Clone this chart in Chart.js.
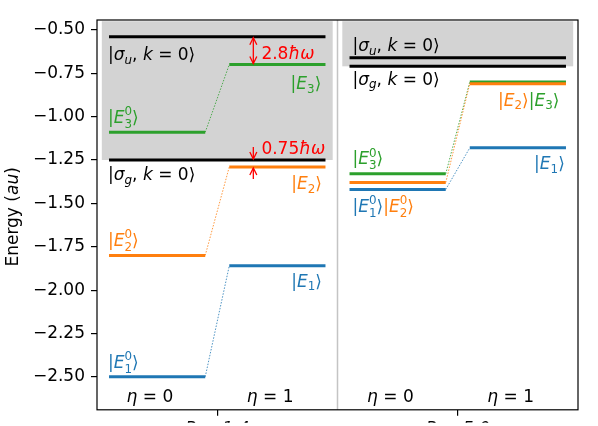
<!DOCTYPE html>
<html>
<head>
<meta charset="utf-8">
<script src="https://cdn.jsdelivr.net/npm/chart.js@4.4.1/dist/chart.umd.min.js"></script>
<style>
  html, body { margin: 0; padding: 0; background: #fff; }
  #wrap { width: 598px; height: 426px; }
</style>
</head>
<body>
<div id="wrap"><canvas id="c" width="598" height="426"></canvas></div>
<script>
// ---------------- data ----------------
const panelLabels = ['R = 1.4', 'R = 5.0'];
const etaLabels = ['η = 0', 'η = 1'];
const sigmaU = [-0.54, -0.66];
const sigmaG = [-1.25, -0.71];
const E1_eta0 = [-2.50, -1.42];
const E2_eta0 = [-1.80, -1.38];
const E3_eta0 = [-1.09, -1.33];
const E1_eta1 = [-1.86, -1.18];
const E2_eta1 = [-1.29, -0.81];
const E3_eta1 = [-0.70, -0.80];
const yTicks = [-2.50, -2.25, -2.00, -1.75, -1.50, -1.25, -1.00, -0.75, -0.50];
const gapLabels = ['2.8ħω', '0.75ħω'];

// ---------------- styles ----------------
const FONT = 'DejaVu Sans';
const FS = 17;
const C1 = '#1f77b4', C2 = '#ff7f0e', C3 = '#2ca02c';
const levelSets = [
  { e0: E1_eta0, e1: E1_eta1, color: C1 },
  { e0: E2_eta0, e1: E2_eta1, color: C2 },
  { e0: E3_eta0, e1: E3_eta1, color: C3 }
];

// ---------------- datasets ----------------
const datasets = [];
function seg(x0, x1, y0, y1, color, width, dash) {
  datasets.push({
    data: [{ x: x0, y: y0 }, { x: x1, y: y1 }],
    showLine: true, borderColor: color, borderWidth: width,
    borderDash: dash || [], pointRadius: 0, borderCapStyle: 'butt', fill: false
  });
}
for (let p = 0; p < 2; p++) {
  const b = 2 * p;
  seg(b + 0.1, b + 1.9, sigmaU[p], sigmaU[p], '#000', 3);
  seg(b + 0.1, b + 1.9, sigmaG[p], sigmaG[p], '#000', 3);
  levelSets.forEach(s => {
    seg(b + 0.1, b + 0.9, s.e0[p], s.e0[p], s.color, 3);
    seg(b + 1.1, b + 1.9, s.e1[p], s.e1[p], s.color, 3);
    seg(b + 0.9, b + 1.1, s.e0[p], s.e1[p], s.color, 0.8, [1.5, 1.5]);
  });
}

// ---------------- rich text helpers ----------------
function fnt(size, it) { return (it ? 'italic ' : '') + size + 'px "' + FONT + '"'; }
function partWidth(ctx, p, size) {
  if (p.sub !== undefined || p.sup !== undefined) {
    ctx.font = fnt(size * 0.7, p.si);
    const a = p.sub ? ctx.measureText(p.sub).width : 0;
    const b = p.sup ? ctx.measureText(p.sup).width : 0;
    return Math.max(a, b);
  }
  ctx.font = fnt(size, p.i);
  return ctx.measureText(p.t).width;
}
function drawParts(ctx, x, y, parts, color, size, align) {
  let w = 0;
  parts.forEach(p => w += partWidth(ctx, p, size));
  if (align === 'center') x -= w / 2;
  ctx.textAlign = 'left';
  ctx.textBaseline = 'alphabetic';
  parts.forEach(p => {
    ctx.fillStyle = p.c || color;
    const pw = partWidth(ctx, p, size);
    if (p.sub !== undefined || p.sup !== undefined) {
      ctx.font = fnt(size * 0.7, p.si);
      const both = p.sub && p.sup;
      if (p.sub) ctx.fillText(p.sub, x, y + size * (both ? 0.30 : 0.22));
      if (p.sup) ctx.fillText(p.sup, x, y - size * 0.45);
    } else {
      ctx.font = fnt(size, p.i);
      ctx.fillText(p.t, x, y);
    }
    x += pw;
  });
}
function ket(sym, sub, sup, c) {
  return [{ t: '|', c }, { t: sym, i: true, c }, { sub, sup, c }, { t: '⟩', c }];
}
function sigKet(s) {
  return [{ t: '|' }, { t: 'σ', i: true }, { sub: s, si: true }, { t: ', ' }, { t: 'k', i: true }, { t: ' = ' }, { t: '0' }, { t: '⟩' }];
}
function eta(lbl) {
  const [a, b] = lbl.split(' = ');
  return [{ t: a, i: true }, { t: ' = ' + b }];
}

// label placements (data coordinates of baseline start)
const labels = [
  { x: 0.092, y: -0.676, parts: sigKet('u'), color: '#000' },
  { x: 0.092, y: -1.366, parts: sigKet('g'), color: '#000' },
  { x: 0.092, y: -1.036, parts: ket('E', '3', '0'), color: C3 },
  { x: 0.092, y: -1.745, parts: ket('E', '2', '0'), color: C2 },
  { x: 0.092, y: -2.448, parts: ket('E', '1', '0'), color: C1 },
  { x: 1.610, y: -0.840, parts: ket('E', '3'), color: C3 },
  { x: 1.615, y: -1.416, parts: ket('E', '2'), color: C2 },
  { x: 1.615, y: -1.980, parts: ket('E', '1'), color: C1 },
  { x: 2.125, y: -0.622, parts: sigKet('u'), color: '#000' },
  { x: 2.125, y: -0.816, parts: sigKet('g'), color: '#000' },
  { x: 2.125, y: -1.275, parts: ket('E', '3', '0'), color: C3 },
  { x: 2.125, y: -1.548, parts: ket('E', '1', '0', C1).concat(ket('E', '2', '0', C2)), color: C1 },
  { x: 3.335, y: -0.936, parts: ket('E', '2', undefined, C2).concat(ket('E', '3', undefined, C3)), color: C2 },
  { x: 3.635, y: -1.302, parts: ket('E', '1'), color: C1 }
];
const etaPos = [[0.44, 1.44], [2.44, 3.44]];

function arrowHead(ctx, x, tipY, dir) {
  // dir = +1 head points down, -1 points up
  ctx.beginPath();
  ctx.moveTo(x - 3.5, tipY - dir * 7);
  ctx.lineTo(x, tipY);
  ctx.lineTo(x + 3.5, tipY - dir * 7);
  ctx.stroke();
}

const bgPlugin = {
  id: 'bg',
  beforeDatasetsDraw(chart) {
    const { ctx, scales: { x, y }, chartArea: a } = chart;
    ctx.save();
    ctx.fillStyle = '#d3d3d3';
    const top = y.getPixelForValue(-0.45);
    // shaded continuum regions above sigma_g
    [[0.04, 1.96, sigmaG[0]], [2.04, 3.96, sigmaG[1]]].forEach(([x0, x1, v]) => {
      const px0 = x.getPixelForValue(x0), px1 = x.getPixelForValue(x1);
      const py = y.getPixelForValue(v);
      ctx.fillRect(px0, top, px1 - px0, py - top);
    });
    // separator
    ctx.strokeStyle = '#c4c4c4';
    ctx.lineWidth = 1.5;
    const sx = x.getPixelForValue(2);
    ctx.beginPath(); ctx.moveTo(sx, a.top); ctx.lineTo(sx, a.bottom); ctx.stroke();
    ctx.restore();
  },
  afterDraw(chart) {
    const { ctx, scales: { x, y }, chartArea: a } = chart;
    ctx.save();
    // frame
    ctx.strokeStyle = '#000';
    ctx.lineWidth = 1.2;
    ctx.strokeRect(a.left, a.top, a.right - a.left, a.bottom - a.top);
    // labels
    labels.forEach(l => drawParts(ctx, x.getPixelForValue(l.x), y.getPixelForValue(l.y), l.parts, l.color, FS, 'left'));
    etaPos.forEach(pair => pair.forEach((xv, i) =>
      drawParts(ctx, x.getPixelForValue(xv), y.getPixelForValue(-2.643), eta(etaLabels[i]), '#000', FS, 'center')));
    // red gap annotations
    ctx.strokeStyle = '#ff0000';
    ctx.lineWidth = 1.3;
    const ax = x.getPixelForValue(1.3);
    const yU = y.getPixelForValue(sigmaU[0]) + 1;
    const y3 = y.getPixelForValue(E3_eta1[0]) - 1;
    ctx.beginPath(); ctx.moveTo(ax, yU); ctx.lineTo(ax, y3); ctx.stroke();
    arrowHead(ctx, ax, yU, -1);
    arrowHead(ctx, ax, y3, 1);
    const yG = y.getPixelForValue(sigmaG[0]) - 1;
    const yGt = y.getPixelForValue(sigmaG[0] + 0.075);
    ctx.beginPath(); ctx.moveTo(ax, yGt); ctx.lineTo(ax, yG); ctx.stroke();
    arrowHead(ctx, ax, yG, 1);
    const y2 = y.getPixelForValue(E2_eta1[0]) + 1;
    const y2t = y.getPixelForValue(E2_eta1[0] - 0.07);
    ctx.beginPath(); ctx.moveTo(ax, y2t); ctx.lineTo(ax, y2); ctx.stroke();
    arrowHead(ctx, ax, y2, -1);
    [[gapLabels[0], -0.666], [gapLabels[1], -1.214]].forEach(([s, v]) => {
      const num = s.replace('ħω', '');
      drawParts(ctx, x.getPixelForValue(1.367), y.getPixelForValue(v), [{ t: num }, { t: 'ħω', i: true }], '#ff0000', FS, 'left');
    });
    // y axis title
    ctx.translate(18, (a.top + a.bottom) / 2 + 2);
    ctx.rotate(-Math.PI / 2);
    drawParts(ctx, 0, 0, [{ t: 'Energy (' }, { t: 'au', i: true }, { t: ')' }], '#000', FS, 'center');
    ctx.restore();
  }
};

new Chart(document.getElementById('c'), {
  type: 'scatter',
  data: { datasets },
  plugins: [bgPlugin],
  options: {
    responsive: false,
    animation: false,
    devicePixelRatio: 1,
    layout: { padding: { top: 20, right: 20, left: 0, bottom: 0 } },
    plugins: { legend: { display: false }, tooltip: { enabled: false } },
    scales: {
      x: {
        type: 'linear', min: 0, max: 4,
        afterBuildTicks(s) { s.ticks = [{ value: 1 }, { value: 3 }]; },
        afterFit(s) { s.height = 13; },
        ticks: {
          callback: (v, i) => panelLabels[i],
          font: { family: FONT, size: FS, style: 'italic' }, color: '#000', padding: 4, maxRotation: 0
        },
        grid: { drawOnChartArea: false, drawTicks: true, tickLength: 6, color: '#000', lineWidth: 1.2 },
        border: { display: false }
      },
      y: {
        type: 'linear', min: -2.69, max: -0.443,
        afterBuildTicks(s) { s.ticks = yTicks.map(v => ({ value: v })); },
        afterFit(s) { s.width = 97; },
        ticks: {
          callback: v => v.toFixed(2).replace('-', '−'),
          font: { family: FONT, size: FS }, color: '#000', padding: 6
        },
        grid: { drawOnChartArea: false, drawTicks: true, tickLength: 6, color: '#000', lineWidth: 1.2 },
        border: { display: false }
      }
    }
  }
});
</script>
</body>
</html>
